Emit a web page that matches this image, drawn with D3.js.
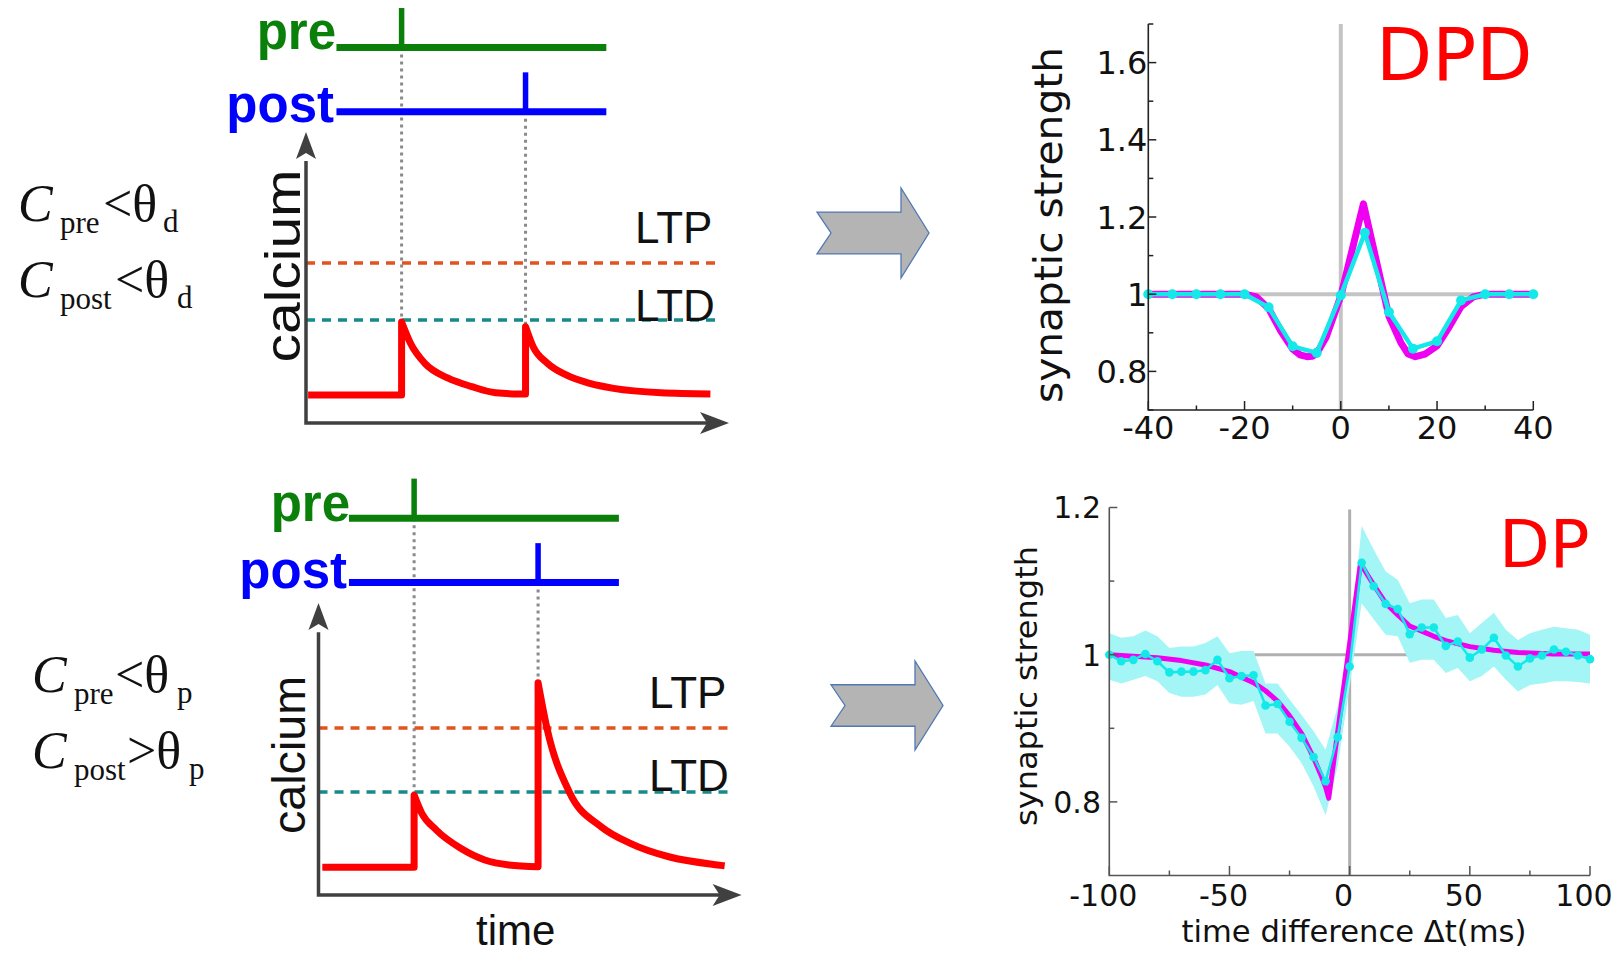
<!DOCTYPE html>
<html><head><meta charset="utf-8">
<script src="https://cdn.jsdelivr.net/npm/d3@7"></script>
<style>body{margin:0;background:#fff}svg{display:block}</style>
</head><body>
<svg id="fig" width="1616" height="956"></svg>
<script>
// ================= DATA =================
// DPD panel (top right)
const dpdSimT = [-40,-35,-30,-25,-20,-15,-10,-5,0,5,10,15,20,25,30,35,40];
const dpdSimV = [1,1,1,1,1,0.966,0.865,0.848,0.997,1.159,0.954,0.859,0.878,0.984,1,1,1];
const dpdTheoryT = [-40,-20,-17.5,-15,-12.5,-10,-8.5,-7,-6,-5,-3,0,4.7,10,12.5,14,15.5,17.5,20,22.5,25,27.5,30,40];
const dpdTheoryV = [1,1,0.993,0.963,0.905,0.858,0.843,0.838,0.839,0.846,0.89,0.995,1.234,0.943,0.874,0.845,0.838,0.845,0.866,0.915,0.968,0.993,1,1];
const dpdYMajor = [0.8,1,1.2,1.4,1.6];
const dpdYLabels = ["0.8","1","1.2","1.4","1.6"];
const dpdYMinor = [0.7,0.9,1.1,1.3,1.5,1.7];
const dpdXMajor = [-40,-20,0,20,40];
const dpdXLabels = ["-40","-20","0","20","40"];
const dpdXMinor = [-30,-10,10,30];

// DP panel (bottom right)
const dpSimT = [-100,-95,-90,-85,-80,-75,-70,-65,-60,-55,-50,-45,-40,-35,-30,-25,-20,-15,-10,-5,0,5,10,15,20,25,30,35,40,45,50,55,60,65,70,75,80,85,90,95,100];
const dpSimV = [1.0,0.991,0.993,1.001,0.991,0.976,0.977,0.977,0.979,0.993,0.968,0.971,0.972,0.931,0.933,0.909,0.887,0.861,0.828,0.888,0.984,1.125,1.093,1.069,1.062,1.028,1.037,1.037,1.012,1.018,0.996,1.007,1.023,0.999,0.984,0.995,0.999,1.007,1.004,0.999,0.994];
const dpBandHi = [1.029,1.023,1.025,1.033,1.025,1.009,1.011,1.011,1.016,1.025,1.002,1.005,1.005,0.961,0.961,0.939,0.918,0.896,0.871,0.93,1.011,1.175,1.143,1.113,1.102,1.07,1.075,1.075,1.05,1.054,1.029,1.043,1.057,1.034,1.02,1.029,1.034,1.038,1.036,1.034,1.027];
const dpBandLo = [0.966,0.961,0.966,0.971,0.964,0.948,0.943,0.943,0.946,0.959,0.934,0.932,0.937,0.893,0.893,0.875,0.853,0.821,0.782,0.848,0.957,1.07,1.048,1.027,1.025,0.989,0.993,0.993,0.975,0.982,0.964,0.971,0.984,0.966,0.95,0.959,0.961,0.964,0.964,0.963,0.961];
const dpTheoryT = [-100,-90,-80,-70,-60,-50,-40,-35,-30,-25,-20,-15,-12,-10,-8.7,4.5,7.5,10,15,20,25,30,35,40,50,60,70,85,100];
const dpTheoryV = [1.0,0.998,0.996,0.992,0.986,0.977,0.962,0.951,0.937,0.917,0.893,0.86,0.837,0.82,0.805,1.124,1.108,1.095,1.07,1.054,1.039,1.032,1.025,1.019,1.011,1.006,1.003,1.001,1.001];
const dpYMajor = [0.8,1,1.2];
const dpYLabels = ["0.8","1","1.2"];
const dpYMinor = [0.9,1.1];
const dpXMajor = [-100,-50,0,50,100];
const dpXLabels = ["-100","-50","0","50","100"];
const dpXMinor = [-75,-25,25,75];

// schematic panels (time in a.u. 0..100, calcium in a.u.)
const preSpikeTime = [22.6];
const postSpikeTime = [51.9];
const trainSpan = [7.2, 71];
const thresholdNames = ["LTP","LTD"];
const topThresholds = [0.55, 0.354];
const botThresholds = [0.572, 0.353];
const topCaT = [0.5,22.6,22.6,24.7,28.1,33.6,39.2,44.8,50.4,51.9,51.9,53.7,57.1,61.5,67.1,72.7,83.9,95.6];
const topCaV = [0.096,0.096,0.347,0.274,0.205,0.154,0.125,0.104,0.1,0.1,0.331,0.262,0.205,0.165,0.136,0.119,0.104,0.1];
const botCaT = [0.9,22.6,22.6,24.4,27.8,33.6,39.3,45.0,51.9,51.9,54.0,59.3,66.8,73.7,82.8,94.3,96.0];
const botCaV = [0.095,0.095,0.342,0.28,0.223,0.16,0.12,0.103,0.097,0.727,0.571,0.352,0.234,0.177,0.131,0.103,0.1];
const formulaTop = [["pre","<θ","d"],["post","<θ","d"]];
const formulaBot = [["pre","<θ","p"],["post",">θ","p"]];

// ================= DRAW =================
const svg = d3.select('#fig');
svg.append('rect').attr('width',1616).attr('height',956).attr('fill','#fff');
const SANS = 'DejaVu Sans';
const LIB = 'Liberation Sans';
const SERIF = 'Liberation Serif';
const CYAN = '#14e8e8', MAG = '#f000f0';

// ---------- DPD ----------
(function(){
  const x = d3.scaleLinear([-40,40],[1148.3,1533.3]);
  const y = d3.scaleLinear([0.7,1.7],[410,24]);
  const g = svg.append('g');
  g.append('line').attr('x1',x(0)).attr('x2',x(0)).attr('y1',y(1.7)).attr('y2',y(0.7)).attr('stroke','#c4c4c4').attr('stroke-width',4);
  g.append('line').attr('x1',x(-40)).attr('x2',x(40)).attr('y1',y(1)).attr('y2',y(1)).attr('stroke','#c4c4c4').attr('stroke-width',4);
  const th = dpdTheoryT.map((t,i)=>[t,dpdTheoryV[i]]);
  g.append('path').attr('d', d3.line().x(d=>x(d[0])).y(d=>y(d[1]))(th))
    .attr('fill','none').attr('stroke',MAG).attr('stroke-width',7).attr('stroke-linejoin','round');
  const sim = dpdSimT.map((t,i)=>[t,dpdSimV[i]]);
  g.append('path').attr('d', d3.line().x(d=>x(d[0])).y(d=>y(d[1]))(sim))
    .attr('fill','none').attr('stroke',CYAN).attr('stroke-width',4.5).attr('stroke-linejoin','round');
  g.selectAll('circle.s').data(sim).join('circle').attr('cx',d=>x(d[0])).attr('cy',d=>y(d[1])).attr('r',5).attr('fill',CYAN);
  g.append('path').attr('d',`M${x(-40)},${y(1.7)}V${y(0.7)}H${x(40)}`).attr('fill','none').attr('stroke','#222').attr('stroke-width',1.6);
  dpdYMajor.forEach(v=>g.append('line').attr('x1',x(-40)).attr('x2',x(-40)+8).attr('y1',y(v)).attr('y2',y(v)).attr('stroke','#222').attr('stroke-width',1.5));
  dpdYMinor.forEach(v=>g.append('line').attr('x1',x(-40)).attr('x2',x(-40)+5).attr('y1',y(v)).attr('y2',y(v)).attr('stroke','#222').attr('stroke-width',1.5));
  dpdXMajor.forEach(v=>g.append('line').attr('x1',x(v)).attr('x2',x(v)).attr('y1',y(0.7)).attr('y2',y(0.7)-9).attr('stroke','#222').attr('stroke-width',1.5));
  dpdXMinor.forEach(v=>g.append('line').attr('x1',x(v)).attr('x2',x(v)).attr('y1',y(0.7)).attr('y2',y(0.7)-4.5).attr('stroke','#222').attr('stroke-width',1.5));
  dpdYMajor.forEach((v,i)=>g.append('text').attr('x',x(-40)-1).attr('y',y(v)).attr('dy','0.36em').attr('text-anchor','end')
    .attr('font-family',SANS).attr('font-size',32).attr('fill','#111').text(dpdYLabels[i]));
  dpdXMajor.forEach((v,i)=>g.append('text').attr('x',x(v)).attr('y',439).attr('text-anchor','middle')
    .attr('font-family',SANS).attr('font-size',32).attr('fill','#111').text(dpdXLabels[i]));
  g.append('text').attr('transform','translate(1062,225) rotate(-90)').attr('text-anchor','middle')
    .attr('font-family',SANS).attr('font-size',39).attr('textLength',356).attr('lengthAdjust','spacingAndGlyphs').attr('fill','#111').text('synaptic strength');
  g.append('text').attr('x',1376).attr('y',80).attr('font-family',SANS).attr('font-size',73).attr('fill','#ff0000').text('DPD');
})();

// ---------- DP ----------
(function(){
  const x = d3.scaleLinear([-100,100],[1109.3,1590]);
  const y = d3.scaleLinear([0.7,1.2],[875.5,507.5]);
  const g = svg.append('g');
  g.append('line').attr('x1',x(0)).attr('x2',x(0)).attr('y1',y(1.2)+2).attr('y2',y(0.7)).attr('stroke','#b0b0b0').attr('stroke-width',3);
  g.append('line').attr('x1',x(-100)).attr('x2',x(100)).attr('y1',y(1)).attr('y2',y(1)).attr('stroke','#b0b0b0').attr('stroke-width',3);
  const band = dpSimT.map((t,i)=>[t,dpBandLo[i],dpBandHi[i]]);
  g.append('path').attr('d', d3.area().x(d=>x(d[0])).y0(d=>y(d[1])).y1(d=>y(d[2]))(band)).attr('fill','#a4f5f5');
  const th = dpTheoryT.map((t,i)=>[t,dpTheoryV[i]]);
  g.append('path').attr('d', d3.line().x(d=>x(d[0])).y(d=>y(d[1]))(th))
    .attr('fill','none').attr('stroke',MAG).attr('stroke-width',5).attr('stroke-linejoin','round');
  const sim = dpSimT.map((t,i)=>[t,dpSimV[i]]);
  g.append('path').attr('d', d3.line().x(d=>x(d[0])).y(d=>y(d[1]))(sim))
    .attr('fill','none').attr('stroke',CYAN).attr('stroke-width',2.5);
  g.selectAll('circle.s').data(sim).join('circle').attr('cx',d=>x(d[0])).attr('cy',d=>y(d[1])).attr('r',4.3).attr('fill',CYAN);
  g.append('path').attr('d',`M${x(-100)},${y(1.2)}V${y(0.7)}H${x(100)}`).attr('fill','none').attr('stroke','#555').attr('stroke-width',1.6);
  dpYMajor.forEach(v=>g.append('line').attr('x1',x(-100)).attr('x2',x(-100)+8).attr('y1',y(v)).attr('y2',y(v)).attr('stroke','#555').attr('stroke-width',1.5));
  dpYMinor.forEach(v=>g.append('line').attr('x1',x(-100)).attr('x2',x(-100)+5).attr('y1',y(v)).attr('y2',y(v)).attr('stroke','#555').attr('stroke-width',1.5));
  dpXMajor.forEach(v=>g.append('line').attr('x1',x(v)).attr('x2',x(v)).attr('y1',y(0.7)).attr('y2',y(0.7)-9.5).attr('stroke','#555').attr('stroke-width',1.5));
  dpXMinor.forEach(v=>g.append('line').attr('x1',x(v)).attr('x2',x(v)).attr('y1',y(0.7)).attr('y2',y(0.7)-5).attr('stroke','#555').attr('stroke-width',1.5));
  dpYMajor.forEach((v,i)=>g.append('text').attr('x',1101).attr('y',y(v)).attr('dy','0.36em').attr('text-anchor','end')
    .attr('font-family',SANS).attr('font-size',30).attr('fill','#111').text(dpYLabels[i]));
  dpXMajor.forEach((v,i)=>g.append('text').attr('x',x(v)-6).attr('y',906).attr('text-anchor','middle')
    .attr('font-family',SANS).attr('font-size',30).attr('fill','#111').text(dpXLabels[i]));
  g.append('text').attr('transform','translate(1037,686) rotate(-90)').attr('text-anchor','middle')
    .attr('font-family',SANS).attr('font-size',31).attr('textLength',280).attr('lengthAdjust','spacingAndGlyphs').attr('fill','#111').text('synaptic strength');
  g.append('text').attr('x',1354).attr('y',942).attr('text-anchor','middle')
    .attr('font-family',SANS).attr('font-size',30).attr('textLength',345).attr('lengthAdjust','spacingAndGlyphs').attr('fill','#111').text('time difference Δt(ms)');
  g.append('text').attr('x',1499).attr('y',567).attr('font-family',SANS).attr('font-size',66).attr('fill','#ff0000').text('DP');
})();

// ---------- block arrows ----------
const arrowShape = [[0,0.267],[0.75,0.267],[0.75,0],[1,0.5],[0.75,1],[0.75,0.733],[0,0.733],[0.125,0.5]];
[[817,188,112,90],[831,661,112,89]].forEach(([ax,ay,w,h])=>{
  const sx = d3.scaleLinear([0,1],[ax,ax+w]), sy = d3.scaleLinear([0,1],[ay,ay+h]);
  svg.append('path').attr('d', d3.line().x(d=>sx(d[0])).y(d=>sy(d[1]))(arrowShape)+'Z')
    .attr('fill','#b4b4b4').attr('stroke','#5078b4').attr('stroke-width',1.3);
});

// ---------- schematic panels ----------
function schematic(cfg){
  const x = d3.scaleLinear([0,100],cfg.xr);
  const y = d3.scaleLinear([0,1],cfg.yr);
  const g = svg.append('g');
  const preY = y(1.29), postY = y(1.07);
  const caT = cfg.caT, caV = cfg.caV;
  const peakAt = t => d3.max(caT.map((tt,i)=>tt===t?caV[i]:-1));
  g.append('line').attr('x1',x(preSpikeTime[0])).attr('x2',x(preSpikeTime[0])).attr('y1',preY).attr('y2',y(peakAt(preSpikeTime[0])))
    .attr('stroke','#8a8a8a').attr('stroke-width',3).attr('stroke-dasharray','3,4');
  g.append('line').attr('x1',x(postSpikeTime[0])).attr('x2',x(postSpikeTime[0])).attr('y1',postY).attr('y2',y(peakAt(postSpikeTime[0])))
    .attr('stroke','#8a8a8a').attr('stroke-width',3).attr('stroke-dasharray','3,4');
  g.append('line').attr('x1',x(trainSpan[0])).attr('x2',x(trainSpan[1])).attr('y1',preY).attr('y2',preY).attr('stroke','#0a800a').attr('stroke-width',7);
  g.append('line').attr('x1',x(preSpikeTime[0])).attr('x2',x(preSpikeTime[0])).attr('y1',preY).attr('y2',y(1.426)).attr('stroke','#0a800a').attr('stroke-width',5.5);
  g.append('line').attr('x1',x(trainSpan[0])).attr('x2',x(trainSpan[1])).attr('y1',postY).attr('y2',postY).attr('stroke','#0000ff').attr('stroke-width',7);
  g.append('line').attr('x1',x(postSpikeTime[0])).attr('x2',x(postSpikeTime[0])).attr('y1',postY).attr('y2',y(1.205)).attr('stroke','#0000ff').attr('stroke-width',5.5);
  g.append('text').attr('x',cfg.preTx[0]).attr('y',cfg.preTx[1]).attr('text-anchor','end').attr('font-family',LIB).attr('font-weight','bold')
    .attr('font-size',51).attr('fill','#0a800a').text('pre');
  g.append('text').attr('x',cfg.postTx[0]).attr('y',cfg.postTx[1]).attr('text-anchor','end').attr('font-family',LIB).attr('font-weight','bold')
    .attr('font-size',51).attr('fill','#0000ff').text('post');
  const thColors = ['#e4521e','#17898a'];
  cfg.th.forEach((v,i)=>{
    g.append('line').attr('x1',x(0)).attr('x2',x(97)).attr('y1',y(v)).attr('y2',y(v))
      .attr('stroke',thColors[i]).attr('stroke-width',3.5).attr('stroke-dasharray','9,7');
  });
  cfg.thLabels.forEach((p,i)=>g.append('text').attr('x',p[0]).attr('y',p[1]).attr('font-family',LIB).attr('font-size',44).attr('fill','#111').text(thresholdNames[i]));
  const pts = caT.map((t,i)=>[t,caV[i]]);
  const runs = [[pts[0]]];
  for (let i=1;i<pts.length;i++){
    if (pts[i][0]===pts[i-1][0]) runs.push([pts[i]]); else runs[runs.length-1].push(pts[i]);
  }
  const ln = d3.line().x(d=>x(d[0])).y(d=>y(d[1])).curve(d3.curveMonotoneX);
  let dstr = '';
  runs.forEach((r,k)=>{ let s = ln(r); if (k>0) s = 'L'+s.slice(1); dstr += s; });
  g.append('path').attr('d', dstr).attr('fill','none').attr('stroke','#ff0000').attr('stroke-width',7).attr('stroke-linejoin','round');
  const ax = '#404040';
  g.append('path').attr('d',`M${x(0)},${y(0.9)}V${y(0)}H${x(95)}`).attr('fill','none').attr('stroke',ax).attr('stroke-width',3.5);
  const tipY = y(1), tipX = x(100), x0 = x(0), y0 = y(0);
  g.append('path').attr('d',`M${x0},${tipY}L${x0+10},${tipY+27}L${x0},${tipY+21}L${x0-10},${tipY+27}Z`).attr('fill',ax);
  g.append('path').attr('d',`M${tipX},${y0}L${tipX-29},${y0+11}L${tipX-22},${y0}L${tipX-29},${y0-11}Z`).attr('fill',ax);
  g.append('text').attr('transform',`translate(${cfg.calc[0]},${cfg.calc[1]}) rotate(-90)`).attr('text-anchor','middle')
    .attr('font-family',LIB).attr('font-size',cfg.calc[2]).attr('textLength',cfg.calc[3]).attr('lengthAdjust','spacingAndGlyphs').attr('fill','#111').text('calcium');
  cfg.formula.forEach((parts,row)=>{
    const [cx,by,subX,relX,symX] = cfg.fpos[row];
    g.append('text').attr('x',cx).attr('y',by).attr('font-family',SERIF).attr('font-style','italic').attr('font-size',52).attr('fill','#111').text('C');
    g.append('text').attr('x',subX).attr('y',by+12).attr('font-family',SERIF).attr('font-size',31).attr('fill','#111').text(parts[0]);
    g.append('text').attr('x',relX).attr('y',by).attr('font-family',SERIF).attr('font-size',52).attr('fill','#111').text(parts[1]);
    g.append('text').attr('x',symX).attr('y',by+11).attr('font-family',SERIF).attr('font-size',31).attr('fill','#111').text(parts[2]);
  });
}

schematic({xr:[306,729], yr:[423,132], caT:topCaT, caV:topCaV, th:topThresholds,
  preTx:[336,49], postTx:[334,122], thLabels:[[635,243],[635,321]],
  calc:[300,266,50,193], formula:formulaTop,
  fpos:[[18,221,60,103,163],[18,297,60,115,177]]});
schematic({xr:[318.5,741.6], yr:[895,603], caT:botCaT, caV:botCaV, th:botThresholds,
  preTx:[350,521], postTx:[347,588], thLabels:[[649,708],[649,791]],
  calc:[305,755,46,158], formula:formulaBot,
  fpos:[[32,692,74,115,177],[32,768,74,127,189]]});
svg.append('text').attr('x',476).attr('y',945).attr('font-family',LIB).attr('font-size',42).attr('fill','#111').text('time');
</script>
</body></html>
